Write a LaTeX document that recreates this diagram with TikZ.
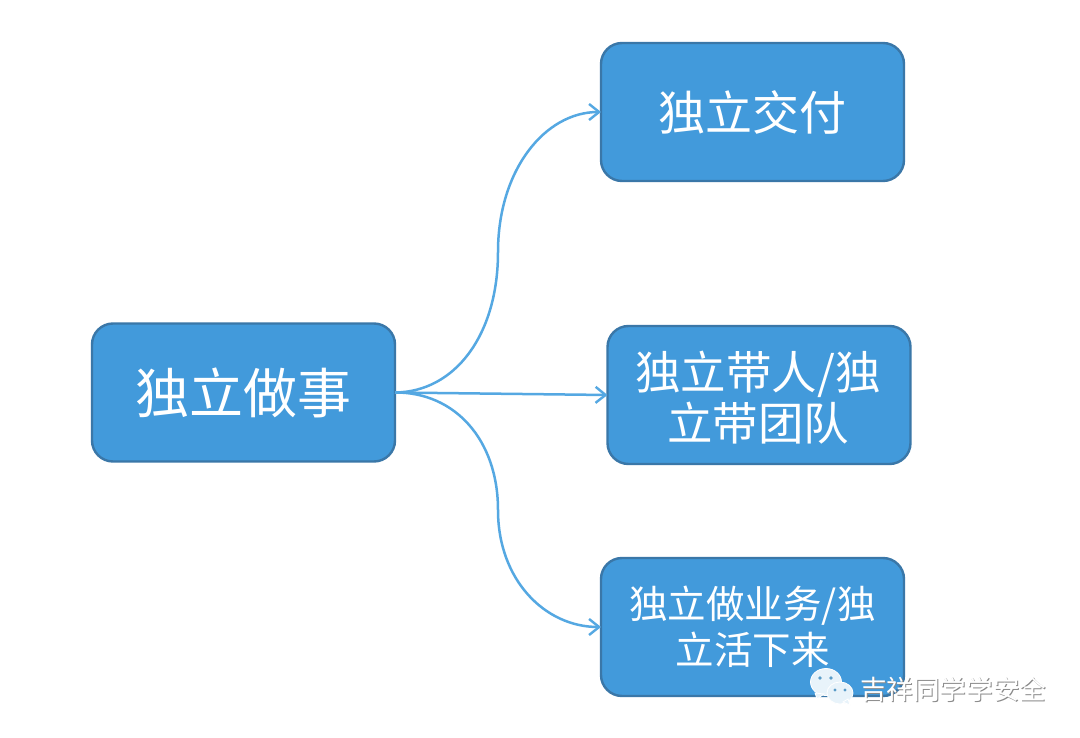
\documentclass[tikz,border=0pt]{standalone}
\usepackage{fontspec}
\newfontfamily\cjk{Noto Sans CJK SC}
\usetikzlibrary{arrows.meta}
\definecolor{boxfill}{HTML}{429ADB}
\definecolor{boxline}{HTML}{3A77A8}
\definecolor{link}{HTML}{55A8E2}
\definecolor{bubble}{HTML}{E8F3FA}
\definecolor{eye}{HTML}{5A9CC8}
\definecolor{wmshadow}{HTML}{8A8A8A}
\tikzset{
 every node/.style={inner sep=0pt,outer sep=0pt},
 box/.style={draw=boxline,line width=2.4pt,fill=boxfill,rounded corners=21pt,minimum width=303pt,minimum height=138pt,text=white,align=center,font=\cjk},
 boxlabel/.style={text=white,align=center},
 linkline/.style={draw=link,line width=2.5pt,-{Straight Barb[length=10pt,width=16pt,line width=2.4pt]}},
 bub/.style={fill=bubble,draw=white,line width=0.8pt},
 bubeye/.style={fill=eye,draw=none},
 wm/.style={font=\cjk\fontsize{26.6}{30}\selectfont,anchor=west}
}
\begin{document}
\begin{tikzpicture}[x=1pt,y=-1pt]
\useasboundingbox (0,0) rectangle (1080,738);
\fill[white] (0,0) rectangle (1080,738);
\node[box,font=\cjk\fontsize{54}{60}\selectfont] (a) at (243.5,392.5) {独立做事};
\node[box,font=\cjk\fontsize{47}{52}\selectfont] (b) at (752.5,112) {独立交付};
\node[box] (c) at (759,395) {};
\node[boxlabel,font=\cjk\fontsize{45.5}{51}\selectfont] (cl) at (758,397.5) {独立带人/独\\立带团队};
\node[box,font=\cjk\fontsize{38.5}{46}\selectfont] (d) at (752.5,627) {独立做业务/独\\立活下来};
\draw[linkline] (a.east) .. controls (455,392) and (498,335) .. (498,252) .. controls (498,170) and (545,112) .. (b.west);
\draw[linkline] (a.east) -- (c.west);
\draw[linkline] (a.east) .. controls (455,392) and (498,440) .. (498,510) .. controls (498,580) and (545,627) .. (d.west);
% WeChat mark
\fill[bub] (826,682) ellipse (15.5 and 13.5);
\fill[bub] (815,693) -- (817,699) -- (824,694) -- cycle;
\fill[bubeye] (820,678) circle (1.9);
\fill[bubeye] (831,678) circle (1.9);
\fill[bub] (840,693) ellipse (13 and 11);
\fill[bub] (843,702) -- (850,705) -- (848,699) -- cycle;
\fill[bubeye] (835,690) circle (1.6);
\fill[bubeye] (845,690) circle (1.6);
\node[wm,text=wmshadow] (w2) at (861,690.5) {吉祥同学学安全};
\node[wm,text=white] (w) at (860,689.5) {吉祥同学学安全};
\end{tikzpicture}
\end{document}
